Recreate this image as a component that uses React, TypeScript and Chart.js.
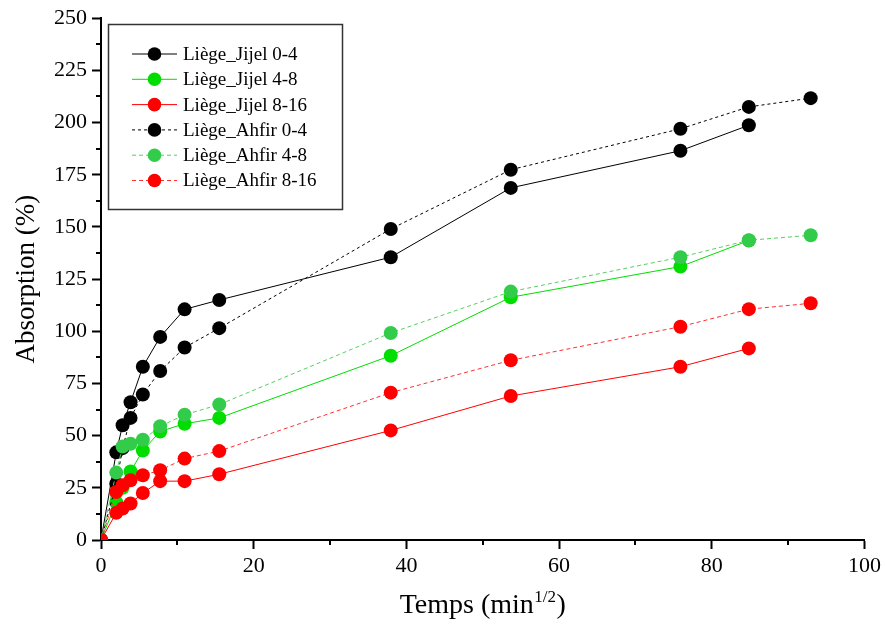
import React, { useEffect, useRef } from 'react';
import { Chart, registerables } from 'chart.js';
Chart.register(...registerables);

// x positions: Temps (min^1/2)
const timeSqrt = [0, 2, 2.83, 3.87, 5.48, 7.75, 10.95, 15.49, 37.95, 53.67, 75.89, 84.85, 92.95];

// Absorption (%) values
const jijel04 = [0, 42, 55, 66, 83, 97.3, 110.5, 115, 135.5, 168.7, 186.5, 198.7];
const jijel48 = [0, 18, 25, 32.8, 42.9, 52, 55.7, 58.5, 88.3, 116.3, 131, 143.5];
const jijel816 = [0, 13, 15.1, 17.5, 22.5, 28.2, 28.2, 31.5, 52.5, 69, 83, 91.8];
const ahfir04 = [0, 27, 44, 58.5, 69.7, 81, 92.2, 101.5, 149, 177.4, 197, 207.5, 211.7];
const ahfir48 = [0, 32.3, 44.8, 46.1, 48, 54.5, 60, 64.9, 99.2, 119, 135.5, 143.6, 146];
const ahfir816 = [0, 23, 26.2, 28.6, 31, 33.4, 39, 42.6, 70.6, 86.1, 102.2, 110.6, 113.4];

const seriesLabels = [
  'Liège_Jijel 0-4',
  'Liège_Jijel 4-8',
  'Liège_Jijel 8-16',
  'Liège_Ahfir 0-4',
  'Liège_Ahfir 4-8',
  'Liège_Ahfir 8-16',
];

const xTitleMain = 'Temps (min';
const xTitleSup = '1/2';
const xTitleEnd = ')';
const yTitle = 'Absorption (%)';

const FONT = '"Liberation Serif", "DejaVu Serif", serif';

const seriesValues = [jijel04, jijel48, jijel816, ahfir04, ahfir48, ahfir816];
const seriesColors = ['#000000', '#00dd00', '#ff0000', '#000000', '#33cc4a', '#ff0000'];
const lineColors = ['#000000', '#00dd00', '#ff0000', '#000000', '#55d060', '#ff3030'];
const seriesDash: number[][] = [[], [], [], [3, 3], [4, 3], [4, 3]];

const minorTicksPlugin = {
  id: 'minorTicks',
  afterDraw(chart: any) {
    const ctx = chart.ctx;
    const xs = chart.scales.x;
    const ys = chart.scales.y;
    const area = chart.chartArea;
    ctx.save();
    ctx.strokeStyle = '#000';
    ctx.lineWidth = 2;
    for (let v = 10; v < 100; v += 20) {
      const px = Math.round(xs.getPixelForValue(v));
      ctx.beginPath();
      ctx.moveTo(px, area.bottom);
      ctx.lineTo(px, area.bottom + 5);
      ctx.stroke();
    }
    for (let v = 12.5; v < 250; v += 25) {
      const py = Math.round(ys.getPixelForValue(v));
      ctx.beginPath();
      ctx.moveTo(area.left, py);
      ctx.lineTo(area.left - 5, py);
      ctx.stroke();
    }
    ctx.restore();
  },
};

const titlesPlugin = {
  id: 'axisTitles',
  afterDraw(chart: any) {
    const ctx = chart.ctx;
    const area = chart.chartArea;
    ctx.save();
    ctx.fillStyle = '#000';
    // y title
    ctx.translate(27, (area.top + area.bottom) / 2);
    ctx.rotate(-Math.PI / 2);
    ctx.font = `27px ${FONT}`;
    ctx.textAlign = 'center';
    ctx.textBaseline = 'middle';
    ctx.fillText(yTitle, 0, 0);
    ctx.restore();

    ctx.save();
    ctx.fillStyle = '#000';
    ctx.textAlign = 'left';
    ctx.textBaseline = 'alphabetic';
    ctx.font = `28px ${FONT}`;
    const w1 = ctx.measureText(xTitleMain).width;
    const w3 = ctx.measureText(xTitleEnd).width;
    ctx.font = `17px ${FONT}`;
    const w2 = ctx.measureText(xTitleSup).width;
    const total = w1 + w2 + w3 + 1;
    let x = (area.left + area.right) / 2 - total / 2;
    const base = 613;
    ctx.font = `28px ${FONT}`;
    ctx.fillText(xTitleMain, x, base);
    x += w1 + 0.5;
    ctx.font = `17px ${FONT}`;
    ctx.fillText(xTitleSup, x, base - 11);
    x += w2 + 0.5;
    ctx.font = `28px ${FONT}`;
    ctx.fillText(xTitleEnd, x, base);
    ctx.restore();
  },
};

const legendPlugin = {
  id: 'insideLegend',
  afterDraw(chart: any) {
    const ctx = chart.ctx;
    ctx.save();
    ctx.fillStyle = '#ffffff';
    ctx.fillRect(108.5, 24.5, 234, 185);
    ctx.strokeStyle = '#333';
    ctx.lineWidth = 1.5;
    ctx.strokeRect(108.5, 24.5, 234, 185);
    chart.data.datasets.forEach((ds: any, i: number) => {
      const y = 54 + 25.3 * i;
      ctx.save();
      ctx.strokeStyle = ds.borderColor;
      ctx.lineWidth = 1;
      ctx.setLineDash(ds.borderDash || []);
      ctx.beginPath();
      ctx.moveTo(132, y);
      ctx.lineTo(177, y);
      ctx.stroke();
      ctx.restore();
      ctx.beginPath();
      ctx.fillStyle = ds.pointBackgroundColor;
      ctx.arc(154.5, y, 6.8, 0, Math.PI * 2);
      ctx.fill();
      ctx.fillStyle = '#000';
      ctx.font = `19px ${FONT}`;
      ctx.textAlign = 'left';
      ctx.textBaseline = 'middle';
      ctx.fillText(ds.label, 183, y + 1);
    });
    ctx.restore();
  },
};

export default function App() {
  const ref = useRef<HTMLCanvasElement>(null);
  useEffect(() => {
    if (!ref.current) return;
    const datasets = seriesValues.map((vals, i) => ({
      label: seriesLabels[i],
      data: vals.map((v, k) => ({ x: timeSqrt[k], y: v })),
      borderColor: lineColors[i],
      borderWidth: 1,
      borderDash: seriesDash[i],
      pointBackgroundColor: seriesColors[i],
      pointBorderColor: seriesColors[i],
      pointBorderWidth: 0,
      pointRadius: 7,
      pointHoverRadius: 7,
      showLine: true,
      fill: false,
      tension: 0,
      order: 5 - i,
    }));
    const tickFont = { family: FONT, size: 22 };
    const chart = new Chart(ref.current, {
      type: 'scatter',
      data: { datasets },
      options: {
        animation: false,
        responsive: false,
        devicePixelRatio: 1,
        layout: { padding: { top: 16, right: 20, left: 0, bottom: 0 } },
        plugins: { legend: { display: false }, tooltip: { enabled: false } },
        scales: {
          x: {
            type: 'linear',
            min: 0,
            max: 100,
            ticks: { stepSize: 20, font: tickFont, color: '#000', padding: 4, maxRotation: 0 },
            grid: { drawOnChartArea: false, drawTicks: true, tickLength: 9, tickWidth: 2, tickColor: '#000' },
            border: { display: true, color: '#000', width: 2 },
            afterFit: (s: any) => { s.height = 84; },
          },
          y: {
            type: 'linear',
            min: 0,
            max: 250,
            ticks: { stepSize: 25, font: tickFont, color: '#000', padding: 5 },
            grid: { drawOnChartArea: false, drawTicks: true, tickLength: 9, tickWidth: 2, tickColor: '#000' },
            border: { display: true, color: '#000', width: 2 },
            afterFit: (s: any) => { s.width = 101; },
          },
        },
      } as any,
      plugins: [minorTicksPlugin, titlesPlugin, legendPlugin],
    });
    return () => chart.destroy();
  }, []);
  return (
    <div style={{ position: 'fixed', left: 0, top: 0, width: 885, height: 624, background: '#fff' }}>
      <canvas ref={ref} width={885} height={624} style={{ display: 'block', width: 885, height: 624 }} />
    </div>
  );
}
